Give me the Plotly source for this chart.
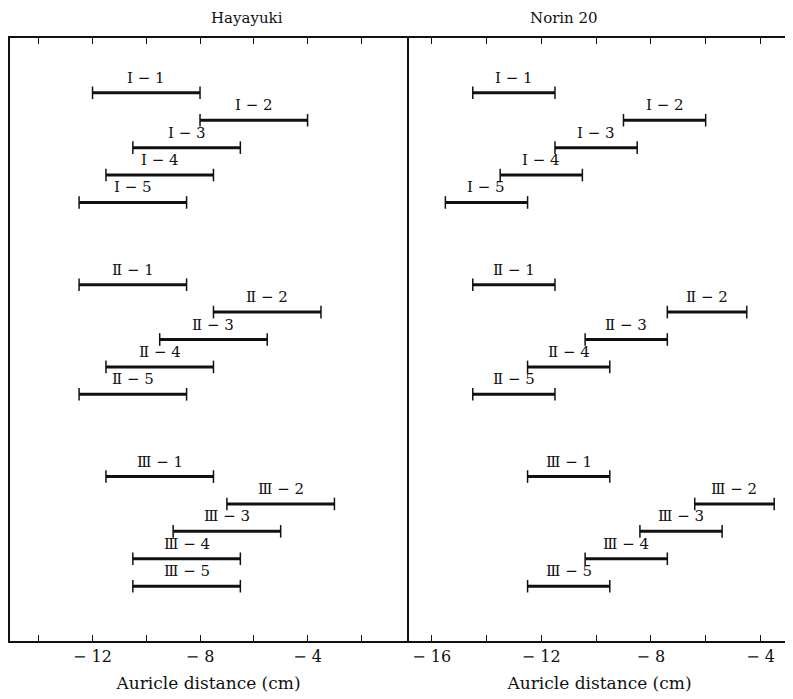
import plotly.graph_objects as go
from plotly.subplots import make_subplots

# ---- data ----
groups = ["Ⅰ", "Ⅱ", "Ⅲ"]
items = ["1", "2", "3", "4", "5"]
labels = [f"{g} − {i}" for g in groups for i in items]

haya_start = [-12, -8, -10.5, -11.5, -12.5,
              -12.5, -7.5, -9.5, -11.5, -12.5,
              -11.5, -7, -9, -10.5, -10.5]
haya_end = [-8, -4, -6.5, -7.5, -8.5,
            -8.5, -3.5, -5.5, -7.5, -8.5,
            -7.5, -3, -5, -6.5, -6.5]

norin_start = [-14.5, -9, -11.5, -13.5, -15.5,
               -14.5, -7.4, -10.4, -12.5, -14.5,
               -12.5, -6.4, -8.4, -10.4, -12.5]
norin_end = [-11.5, -6, -8.5, -10.5, -12.5,
             -11.5, -4.5, -7.4, -9.5, -11.5,
             -9.5, -3.5, -5.4, -7.4, -9.5]

haya_ticks = [-14, -12, -10, -8, -6, -4, -2]
haya_ticklabels = ["", "− 12", "", "− 8", "", "− 4", ""]
norin_ticks = [-16, -14, -12, -10, -8, -6, -4]
norin_ticklabels = ["− 16", "", "− 12", "", "− 8", "", "− 4"]

panel_titles = ["Hayayuki", "Norin 20"]
x_title = "Auricle distance (cm)"

# row positions: 5 rows per group, 2 empty rows between groups
rows = [gi * 7 + ii for gi in range(len(groups)) for ii in range(len(items))]

FONT = "DejaVu Serif, Liberation Serif, Noto Sans CJK JP, serif"

W, H = 785, 691   # page body has an 8px margin
split = (407 - 10) / (792 - 10)
fig = make_subplots(rows=1, cols=2, horizontal_spacing=0,
                    column_widths=[split, 1 - split])

def add_panel(starts, ends, col):
    xs, ys = [], []
    for s, e, r in zip(starts, ends, rows):
        xs += [s, e, None]
        ys += [r, r, None]
    fig.add_trace(go.Scatter(
        x=xs, y=ys, mode="lines+markers",
        line=dict(color="#111", width=3),
        marker=dict(symbol="line-ns", size=9, line=dict(width=1.5, color="#111"), color="#111"),
        showlegend=False, hoverinfo="skip", cliponaxis=False), row=1, col=col)
    xr = "x" if col == 1 else "x2"
    yr = "y" if col == 1 else "y2"
    for s, e, r, lab in zip(starts, ends, rows, labels):
        fig.add_annotation(x=(s + e) / 2, y=r, xref=xr, yref=yr, text=lab,
                           showarrow=False, yshift=15,
                           font=dict(family=FONT, size=15, color="#111"))

add_panel(haya_start, haya_end, 1)
add_panel(norin_start, norin_end, 2)

axis_common = dict(showgrid=False, zeroline=False, showline=True, linecolor="#111",
                   linewidth=2, mirror="ticks", ticks="inside", ticklen=6,
                   tickcolor="#111", tickwidth=1, automargin=False,
                   tickfont=dict(family=FONT, size=16, color="#111"),
                   title=dict(text=x_title, font=dict(family=FONT, size=17, color="#111"),
                              standoff=12))
fig.update_xaxes(range=[-15.07, -0.3], tickvals=haya_ticks, ticktext=haya_ticklabels,
                 row=1, col=1, **axis_common)
fig.update_xaxes(range=[-16.9, -2.85], tickvals=norin_ticks, ticktext=norin_ticklabels,
                 row=1, col=2, **axis_common)
fig.update_yaxes(range=[20, -2], showgrid=False, zeroline=False, showticklabels=False,
                 ticks="", showline=True, mirror=True, linecolor="#111", linewidth=2,
                 automargin=False, row=1, col=1)
fig.update_yaxes(range=[20, -2], showgrid=False, zeroline=False, showticklabels=False,
                 ticks="", showline=False, automargin=False, row=1, col=2)

for i, t in enumerate(panel_titles):
    dom = [0, split] if i == 0 else [split, 1]
    fig.add_annotation(x=(dom[0] + dom[1]) / 2, y=1, xref="paper", yref="paper",
                       yanchor="bottom", yshift=9, text=t, showarrow=False,
                       font=dict(family=FONT, size=15, color="#111"))

fig.update_layout(width=W, height=H, paper_bgcolor="white", plot_bgcolor="white",
                  margin=dict(l=2, r=1, t=30, b=58, autoexpand=False))

fig.write_html("out.html")
